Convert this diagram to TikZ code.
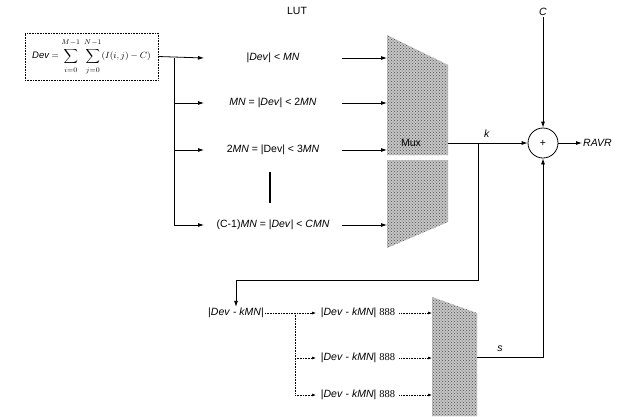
\documentclass[tikz,border=0pt]{standalone}
\usepackage{fontspec}
\setmainfont{Liberation Sans}
\newfontfamily\serifface{Liberation Serif}
\usetikzlibrary{arrows.meta,patterns}
\newcommand{\uplim}[1]{\raisebox{2pt}{$\scriptstyle #1$}}
\newcommand{\lolim}[1]{\raisebox{-2pt}{$\scriptstyle #1$}}
\begin{document}
\begin{tikzpicture}[x=1pt,y=-1pt,
  lbl/.style={font=\fontsize{10.5}{12}\selectfont, inner sep=1pt},
  arr/.style={-{Latex[length=6pt,width=4pt]}, line width=0.8pt},
  ln/.style={line width=0.6pt},
  sarr/.style={-{Latex[length=4pt,width=3pt]}, line width=0.6pt, densely dotted},
  dln/.style={line width=0.6pt, densely dotted},
  muxfill/.style={fill=gray!45, postaction={pattern=crosshatch dots, pattern color=gray!60!black}}]
\useasboundingbox (0,0) rectangle (621,416);

% title
\node[lbl] (lut) at (297,11) {LUT};

% equation box
\node[draw, densely dotted, line width=0.6pt, minimum width=133pt, minimum height=47pt, inner sep=0pt,
      font=\fontsize{9.5}{11}\selectfont] (eq) at (91.5,56.5)
  {$\displaystyle \mathit{Dev}=\sum_{\lolim{i=0}}^{\uplim{M-1}}\;\sum_{\lolim{j=0}}^{\uplim{N-1}}(I(i,j)-C)$};

% comparison texts
\node[lbl] (t1) at (273,58) {|\textit{Dev}| < \textit{MN}};
\node[lbl] (t2) at (273,103) {\textit{MN} = |\textit{Dev}| < 2\textit{MN}};
\node[lbl] (t3) at (273,150) {2\textit{MN} = |Dev| < 3\textit{MN}};
\node[lbl] (t4) at (273,225) {(C-1)\textit{MN} = |\textit{Dev}| < \textit{CMN}};
\draw[line width=1.5pt] (270,172) -- (270,203);

% helper columns
\coordinate (tr) at (174,0);
\coordinate (ae) at (204,0);
\coordinate (as) at (342,0);
\coordinate (ml) at (387,0);

% left fan-out
\draw[arr] (eq.east) -- (ae |- t1);
\draw[ln] (tr |- t1) -- (tr |- t4);
\draw[arr] (tr |- t2) -- (ae |- t2);
\draw[arr] (tr |- t3) -- (ae |- t3);
\draw[arr] (tr |- t4) -- (ae |- t4);

% into mux
\draw[arr] (as |- t1) -- (ml |- t1);
\draw[arr] (as |- t2) -- (ml |- t2);
\draw[arr] (as |- t3) -- (ml |- t3);
\draw[arr] (as |- t4) -- (ml |- t4);

% mux 1
\path[muxfill] (387,35) -- (448,65) -- (448,155) -- (387,155) -- cycle;
\path[muxfill] (387,160) -- (448,160) -- (448,222) -- (387,248) -- cycle;
\node[lbl] (mux) at (411,143) {Mux};
\coordinate (mo) at (448,143);

% adder
\node[draw, circle, minimum size=30pt, inner sep=0pt, line width=0.8pt, lbl] (sum) at (543,143) {+};
\node[lbl] (C) at (543,12) {\textit{C}};
\node[lbl, anchor=west] (ravr) at (582,143) {\textit{RAVR}};
\draw[arr] (C) -- (sum);
\draw[arr] (sum) -- (ravr);
\draw[arr] (mo) -- (sum);
\node[lbl] (k) at (487,134) {\textit{k}};

% feedback to |Dev - kMN|
\coordinate (br) at (478,143);
\coordinate (bk) at (478,280);
\node[lbl] (dk) at (236,313) {|\textit{Dev} - \textit{kMN}|};
\draw[arr] (br) -- (bk) -| (dk.north);

% lower fan-out
\node[lbl] (u1) at (358,313) {|\textit{Dev} - \textit{kMN}| {\serifface 888}};
\node[lbl] (u2) at (358,358) {|\textit{Dev} - \textit{kMN}| {\serifface 888}};
\node[lbl] (u3) at (358,395) {|\textit{Dev} - \textit{kMN}| {\serifface 888}};
\coordinate (lt) at (295,0);
\coordinate (la) at (316,0);
\coordinate (m2l) at (432,0);
\draw[sarr] (dk.east) -- (la |- dk);
\draw[dln] (lt |- dk) -- (lt |- u3);
\draw[sarr] (lt |- u2) -- (la |- u2);
\draw[sarr] (lt |- u3) -- (la |- u3);
\draw[sarr] ([xshift=3pt]u1.east) -- (m2l |- u1);
\draw[sarr] ([xshift=3pt]u2.east) -- (m2l |- u2);
\draw[sarr] ([xshift=3pt]u3.east) -- (m2l |- u3);

% mux 2
\path[muxfill] (432,297) -- (477,313) -- (477,416) -- (432,416) -- cycle;
\coordinate (m2o) at (477,357);
\coordinate (sc) at (543,357);
\draw[arr] (m2o) -- (sc) -- (sum);
\node[lbl] (s) at (500,349) {\textit{s}};
\end{tikzpicture}
\end{document}
